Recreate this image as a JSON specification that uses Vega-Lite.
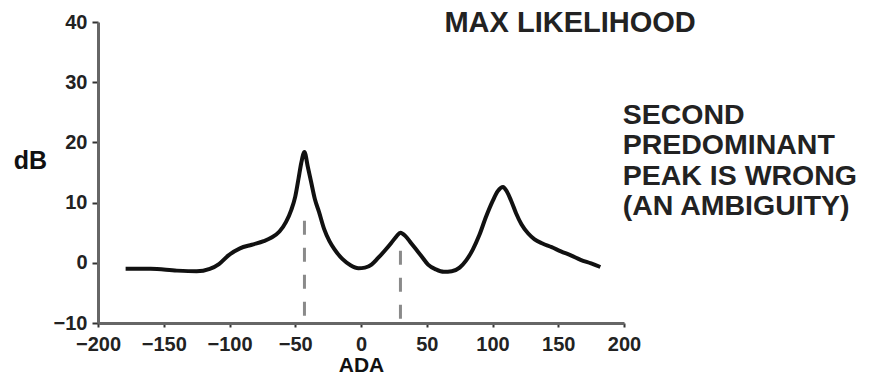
{
  "$schema": "https://vega.github.io/schema/vega-lite/v6.json",
  "width": 526,
  "height": 301,
  "autosize": "none",
  "padding": {"left": 98, "top": 22, "right": 246, "bottom": 53},
  "background": "white",
  "config": {"view": {"stroke": null}, "font": "Liberation Sans"},
  "layer": [
    {
      "data": {"values": [
        {"ADA": -43, "top": 7},
        {"ADA": 30, "top": 2}
      ]},
      "mark": {"type": "rule", "color": "#8a8a8a", "strokeWidth": 3, "strokeDash": [14, 13]},
      "encoding": {
        "x": {"field": "ADA", "type": "quantitative"},
        "y": {"field": "top", "type": "quantitative"},
        "y2": {"datum": -10}
      }
    },
    {
      "data": {"values": [
        {"ADA": -179, "dB": -1.0}, {"ADA": -160, "dB": -1.0}, {"ADA": -140, "dB": -1.3}, {"ADA": -125, "dB": -1.4},
        {"ADA": -115, "dB": -1.0}, {"ADA": -108, "dB": -0.2}, {"ADA": -101, "dB": 1.2}, {"ADA": -92, "dB": 2.4},
        {"ADA": -83, "dB": 3.0}, {"ADA": -74, "dB": 3.6}, {"ADA": -68, "dB": 4.2}, {"ADA": -62, "dB": 5.2},
        {"ADA": -57, "dB": 6.8}, {"ADA": -53, "dB": 8.8}, {"ADA": -50, "dB": 11.0}, {"ADA": -47.5, "dB": 14.0},
        {"ADA": -45.5, "dB": 16.5}, {"ADA": -43, "dB": 18.4}, {"ADA": -40.5, "dB": 16.0}, {"ADA": -38, "dB": 13.5},
        {"ADA": -35, "dB": 10.5}, {"ADA": -32, "dB": 8.5}, {"ADA": -28, "dB": 5.6}, {"ADA": -24, "dB": 3.6},
        {"ADA": -20, "dB": 2.2}, {"ADA": -14, "dB": 0.6}, {"ADA": -8, "dB": -0.4}, {"ADA": -2, "dB": -0.9},
        {"ADA": 3, "dB": -0.8}, {"ADA": 8, "dB": -0.3}, {"ADA": 13, "dB": 0.8}, {"ADA": 18, "dB": 2.0},
        {"ADA": 23, "dB": 3.3}, {"ADA": 27, "dB": 4.4}, {"ADA": 30, "dB": 5.0}, {"ADA": 34, "dB": 4.4},
        {"ADA": 38, "dB": 3.3}, {"ADA": 42, "dB": 2.2}, {"ADA": 46, "dB": 1.1}, {"ADA": 51, "dB": -0.3},
        {"ADA": 57, "dB": -1.1}, {"ADA": 63, "dB": -1.5}, {"ADA": 69, "dB": -1.4}, {"ADA": 75, "dB": -0.8},
        {"ADA": 80, "dB": 0.4}, {"ADA": 85, "dB": 2.2}, {"ADA": 90, "dB": 4.6}, {"ADA": 95, "dB": 7.6},
        {"ADA": 100, "dB": 10.2}, {"ADA": 104, "dB": 11.9}, {"ADA": 108, "dB": 12.6}, {"ADA": 111, "dB": 11.8},
        {"ADA": 114, "dB": 10.4}, {"ADA": 118, "dB": 8.2}, {"ADA": 122, "dB": 6.4}, {"ADA": 127, "dB": 4.9},
        {"ADA": 132, "dB": 3.9}, {"ADA": 138, "dB": 3.2}, {"ADA": 145, "dB": 2.6}, {"ADA": 152, "dB": 1.9},
        {"ADA": 160, "dB": 1.2}, {"ADA": 167, "dB": 0.5}, {"ADA": 175, "dB": -0.1}, {"ADA": 182, "dB": -0.7}
      ]},
      "mark": {"type": "line", "color": "#111111", "strokeWidth": 4, "interpolate": "monotone"},
      "encoding": {
        "x": {
          "field": "ADA", "type": "quantitative",
          "scale": {"domain": [-200, 200], "nice": false},
          "axis": {
            "values": [-200, -150, -100, -50, 0, 50, 100, 150, 200],
            "grid": false,
            "domainColor": "#666666", "domainWidth": 3,
            "tickColor": "#333333", "tickSize": 4, "tickWidth": 2,
            "labelFontSize": 20, "labelFontWeight": "bold", "labelColor": "#222222",
            "labelPadding": 7, "labelFlush": false, "labelOverlap": false,
            "title": "ADA", "titleFontSize": 21, "titleFontWeight": "bold", "titleColor": "#111111",
            "titleBaseline": "middle", "titleY": 42
          }
        },
        "y": {
          "field": "dB", "type": "quantitative",
          "scale": {"domain": [-10, 40], "nice": false},
          "axis": {
            "values": [-10, -5, 0, 5, 10, 15, 20, 25, 30, 35, 40],
            "labelExpr": "datum.value % 10 == 0 ? datum.label : ''",
            "grid": false,
            "domainColor": "#666666", "domainWidth": 3,
            "tickColor": "#333333", "tickSize": 6, "tickWidth": 2,
            "labelFontSize": 20, "labelFontWeight": "bold", "labelColor": "#222222",
            "labelPadding": 5, "labelFlush": false, "labelOverlap": false,
            "title": "dB", "titleAngle": 0, "titleFontSize": 25, "titleFontWeight": "bold", "titleColor": "#111111",
            "titleAlign": "center", "titleBaseline": "middle", "titleX": -68, "titleY": 138
          }
        }
      }
    },
    {
      "data": {"values": [
        {"ADA": 159, "dB": 39.8, "label": "MAX LIKELIHOOD"}
      ]},
      "mark": {"type": "text", "align": "center", "baseline": "middle", "fontSize": 29, "fontWeight": "bold", "color": "#222222"},
      "encoding": {
        "x": {"field": "ADA", "type": "quantitative"},
        "y": {"field": "dB", "type": "quantitative"},
        "text": {"field": "label"}
      }
    },
    {
      "data": {"values": [
        {"ADA": 199, "dB": 24.5, "label": "SECOND"},
        {"ADA": 199, "dB": 19.5, "label": "PREDOMINANT"},
        {"ADA": 199, "dB": 14.5, "label": "PEAK IS WRONG"},
        {"ADA": 199, "dB": 9.5, "label": "(AN AMBIGUITY)"}
      ]},
      "mark": {"type": "text", "align": "left", "baseline": "middle", "fontSize": 28.5, "fontWeight": "bold", "color": "#222222"},
      "encoding": {
        "x": {"field": "ADA", "type": "quantitative"},
        "y": {"field": "dB", "type": "quantitative"},
        "text": {"field": "label"}
      }
    }
  ]
}
